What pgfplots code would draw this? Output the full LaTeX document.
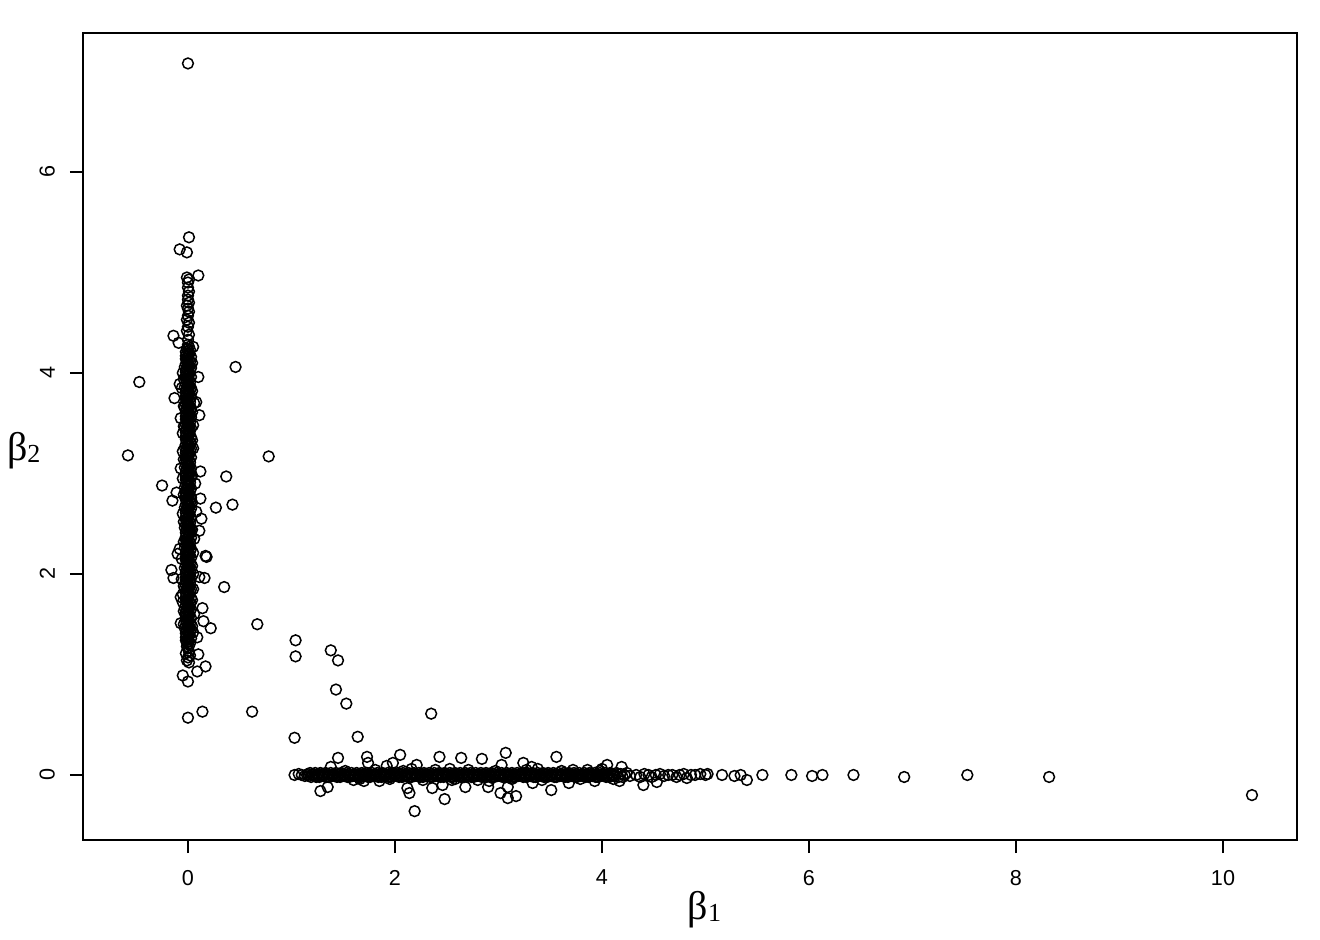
\documentclass[border=0pt]{standalone}
\usepackage{fontspec}
\setmainfont{Liberation Sans}
\newfontfamily\lserif{Liberation Serif}
\usepackage{pgfplots}
\pgfplotsset{compat=1.18}
\newcommand{\blabel}[1]{{\lserif\fontsize{20bp}{20bp}\selectfont β\raisebox{-1bp}{\fontsize{13bp}{13bp}\selectfont #1}}}
\begin{document}
\begin{tikzpicture}
\useasboundingbox (-41.5bp,-50bp) rectangle (618.5bp,420bp);
\begin{axis}[
  at={(0,0)}, anchor=south west,
  scale only axis, width=607bp, height=403.5bp,
  xmin=-1.014, xmax=10.715, ymin=-0.647, ymax=7.383,
  xtick={0,2,4,6,8,10}, ytick={0,2,4,6},
  tick pos=left, tick align=outside, major tick length=6.5bp,
  axis line style={line width=0.65bp},
  every tick/.style={black, line width=0.65bp},
  tick label style={font=\fontsize{10.8bp}{12bp}\selectfont},
  /pgf/number format/assume math mode=true,
  xticklabel shift=5bp,
  yticklabel style={rotate=90, anchor=south},
  yticklabel shift=4bp,
  xlabel={\blabel{1}}, ylabel={\blabel{2}},
  every axis x label/.style={at={(rel axis cs:0.512,0)}, anchor=center, yshift=-35bp},
  every axis y label/.style={at={(rel axis cs:0,0.483)}, anchor=west, xshift=-41.5bp},
]
% vertical cluster (beta1 near 0)
\addplot[only marks, mark=o, mark size=2.7bp, mark options={line width=0.75bp, black}] coordinates {
(0,7.08)(-0.08,5.23)(0.01,5.35)(-0.01,5.20)(0.10,4.97)
(0.01,1.12)(-0.01,1.14)(0,1.17)(0.02,1.19)(-0.02,1.21)(0.01,1.23)(0,1.26)(-0.01,1.28)
(0,1.30)(0.02,1.31)(-0.01,1.32)(0.01,1.33)(-0.02,1.34)(0,1.35)(0.03,1.36)(-0.02,1.37)(0.01,1.38)(-0.01,1.39)
(0.01,1.40)(-0.02,1.41)(0,1.42)(0.02,1.43)(-0.01,1.44)(0.03,1.45)(-0.03,1.46)(0.01,1.47)(0,1.48)(-0.02,1.49)
(0,1.50)(0.02,1.51)(-0.01,1.52)(0.01,1.53)(-0.02,1.54)(0,1.55)(0.03,1.56)(-0.02,1.57)(0.01,1.58)(-0.01,1.59)
(0.01,1.60)(-0.02,1.61)(0,1.62)(0.02,1.63)(-0.01,1.64)(0.03,1.65)(-0.03,1.66)(0.01,1.67)(0,1.68)(-0.02,1.69)
(0,1.70)(0.02,1.71)(-0.01,1.72)(0.01,1.73)(-0.02,1.74)(0,1.75)(0.03,1.76)(-0.02,1.77)(0.01,1.78)(-0.01,1.79)
(0.01,1.80)(-0.02,1.81)(0,1.82)(0.02,1.83)(-0.01,1.84)(0.03,1.85)(-0.03,1.86)(0.01,1.87)(0,1.88)(-0.02,1.89)
(0,1.90)(0.02,1.91)(-0.01,1.92)(0.01,1.93)(-0.02,1.94)(0,1.95)(0.03,1.96)(-0.02,1.97)(0.01,1.98)(-0.01,1.99)
(0.01,2.00)(-0.02,2.01)(0,2.02)(0.02,2.03)(-0.01,2.04)(0.03,2.05)(-0.03,2.06)(0.01,2.07)(0,2.08)(-0.02,2.09)
(0,2.10)(0.02,2.11)(-0.01,2.12)(0.01,2.13)(-0.02,2.14)(0,2.15)(0.03,2.16)(-0.02,2.17)(0.01,2.18)(-0.01,2.19)
(0.01,2.20)(-0.02,2.21)(0,2.22)(0.02,2.23)(-0.01,2.24)(0.03,2.25)(-0.03,2.26)(0.01,2.27)(0,2.28)(-0.02,2.29)
(0,2.30)(0.02,2.31)(-0.01,2.32)(0.01,2.33)(-0.02,2.34)(0,2.35)(0.03,2.36)(-0.02,2.37)(0.01,2.38)(-0.01,2.39)
(0.01,2.40)(-0.02,2.41)(0,2.42)(0.02,2.43)(-0.01,2.44)(0.03,2.45)(-0.03,2.46)(0.01,2.47)(0,2.48)(-0.02,2.49)
(0,2.50)(0.02,2.51)(-0.01,2.52)(0.01,2.53)(-0.02,2.54)(0,2.55)(0.03,2.56)(-0.02,2.57)(0.01,2.58)(-0.01,2.59)
(0.01,2.60)(-0.02,2.61)(0,2.62)(0.02,2.63)(-0.01,2.64)(0.03,2.65)(-0.03,2.66)(0.01,2.67)(0,2.68)(-0.02,2.69)
(0,2.70)(0.02,2.71)(-0.01,2.72)(0.01,2.73)(-0.02,2.74)(0,2.75)(0.03,2.76)(-0.02,2.77)(0.01,2.78)(-0.01,2.79)
(0.01,2.80)(-0.02,2.81)(0,2.82)(0.02,2.83)(-0.01,2.84)(0.03,2.85)(-0.03,2.86)(0.01,2.87)(0,2.88)(-0.02,2.89)
(0,2.90)(0.02,2.91)(-0.01,2.92)(0.01,2.93)(-0.02,2.94)(0,2.95)(0.03,2.96)(-0.02,2.97)(0.01,2.98)(-0.01,2.99)
(0.01,3.00)(-0.02,3.01)(0,3.02)(0.02,3.03)(-0.01,3.04)(0.03,3.05)(-0.03,3.06)(0.01,3.07)(0,3.08)(-0.02,3.09)
(0,3.10)(0.02,3.11)(-0.01,3.12)(0.01,3.13)(-0.02,3.14)(0,3.15)(0.03,3.16)(-0.02,3.17)(0.01,3.18)(-0.01,3.19)
(0.01,3.20)(-0.02,3.21)(0,3.22)(0.02,3.23)(-0.01,3.24)(0.03,3.25)(-0.03,3.26)(0.01,3.27)(0,3.28)(-0.02,3.29)
(0,3.30)(0.02,3.31)(-0.01,3.32)(0.01,3.33)(-0.02,3.34)(0,3.35)(0.03,3.36)(-0.02,3.37)(0.01,3.38)(-0.01,3.39)
(0.01,3.40)(-0.02,3.41)(0,3.42)(0.02,3.43)(-0.01,3.44)(0.03,3.45)(-0.03,3.46)(0.01,3.47)(0,3.48)(-0.02,3.49)
(0,3.50)(0.02,3.51)(-0.01,3.52)(0.01,3.53)(-0.02,3.54)(0,3.55)(0.03,3.56)(-0.02,3.57)(0.01,3.58)(-0.01,3.59)
(0.01,3.60)(-0.02,3.61)(0,3.62)(0.02,3.63)(-0.01,3.64)(0.03,3.65)(-0.03,3.66)(0.01,3.67)(0,3.68)(-0.02,3.69)
(0,3.70)(0.02,3.71)(-0.01,3.72)(0.01,3.73)(-0.02,3.74)(0,3.75)(0.03,3.76)(-0.02,3.77)(0.01,3.78)(-0.01,3.79)
(0.01,3.80)(-0.02,3.81)(0,3.82)(0.02,3.83)(-0.01,3.84)(0.03,3.85)(-0.03,3.86)(0.01,3.87)(0,3.88)(-0.02,3.89)
(0,3.90)(0.02,3.91)(-0.01,3.92)(0.01,3.93)(-0.02,3.94)(0,3.95)(0.03,3.96)(-0.02,3.97)(0.01,3.98)(-0.01,3.99)
(0.01,4.00)(-0.02,4.01)(0,4.02)(0.02,4.03)(-0.01,4.04)(0.03,4.05)(-0.03,4.06)(0.01,4.07)(0,4.08)(-0.02,4.09)
(0,4.10)(0.02,4.11)(-0.01,4.12)(0.01,4.13)(-0.02,4.14)(0,4.15)(0.03,4.16)(-0.02,4.17)(0.01,4.18)(-0.01,4.19)
(0.01,4.20)(-0.02,4.21)(0,4.22)(0.02,4.23)(-0.01,4.24)(0.01,4.26)(0,4.28)
(0,4.33)(0.01,4.38)(-0.01,4.42)(0,4.46)(0.01,4.50)(-0.01,4.53)(0,4.57)(0.01,4.61)(0,4.64)(-0.01,4.67)
(0.01,4.70)(0,4.73)(0,4.77)(0.01,4.81)(0,4.85)(0,4.90)(0.01,4.93)(-0.01,4.95)
(-0.06,3.85)(0.06,3.70)(-0.05,3.40)(0.05,3.25)(-0.07,3.05)(0.07,2.90)(-0.05,2.60)(0.06,2.35)
(-0.06,2.15)(0.05,2.00)(-0.05,1.80)(0.06,1.60)(-0.04,1.50)(0.05,1.42)(-0.06,1.95)(-0.08,2.25)
(0.08,2.62)(-0.07,3.55)(0.04,4.10)(-0.05,4.00)
(0.04,1.48)(-0.04,1.63)(0.04,1.74)(-0.04,1.88)(0.04,2.08)(-0.04,2.32)(0.04,2.44)(-0.04,2.52)
(0.04,2.71)(-0.04,2.79)(0.04,2.98)(-0.04,3.14)(0.04,3.33)(-0.04,3.47)(0.04,3.61)(-0.04,3.67)
(0.04,3.82)(-0.04,3.94)(0.05,2.21)(-0.05,2.95)(0.05,3.48)(-0.05,1.72)(0.05,1.85)(-0.05,3.22)
(-0.14,4.37)(-0.09,4.30)(0.05,4.26)(0.46,4.06)(-0.47,3.91)(0.10,3.96)(-0.08,3.89)(-0.13,3.75)
(0.08,3.71)(0.11,3.58)(-0.58,3.18)(0.78,3.17)(0.12,3.02)(0.37,2.97)(-0.25,2.88)(-0.11,2.81)
(-0.15,2.73)(0.12,2.75)(0.27,2.66)(0.43,2.69)(0.13,2.55)(0.11,2.43)(0.18,2.17)(0.17,2.18)
(-0.10,2.20)(-0.16,2.04)(-0.14,1.96)(0.16,1.96)(0.11,1.97)(0.35,1.87)(-0.07,1.77)(0.14,1.66)
(0.15,1.53)(0.22,1.46)(0.67,1.50)(-0.07,1.51)(0.09,1.37)(0.10,1.20)(-0.05,0.99)(0,0.93)
(0.09,1.03)(0.17,1.08)(0,0.57)(0.14,0.63)(0.62,0.63)
};
% horizontal cluster (beta2 near 0)
\addplot[only marks, mark=o, mark size=2.7bp, mark options={line width=0.75bp, black}] coordinates {
(1.04,1.34)(1.04,1.18)(1.38,1.24)(1.45,1.14)(1.43,0.85)(1.53,0.71)(2.35,0.61)(1.03,0.37)(1.64,0.38)
(1.03,0)(1.07,0.01)(1.10,0)(1.13,-0.01)
(1.15,0)(1.16,0.01)(1.17,-0.01)(1.18,0.02)(1.19,-0.02)
(1.20,0)(1.21,0.01)(1.22,-0.01)(1.23,0.02)(1.24,-0.02)(1.25,0)(1.26,0.01)(1.27,-0.02)(1.28,0.02)(1.29,-0.01)
(1.30,0.01)(1.31,-0.01)(1.32,0)(1.33,0.02)(1.34,-0.02)(1.35,0.01)(1.36,-0.02)(1.37,0)(1.38,0.02)(1.39,-0.01)
(1.40,0)(1.41,0.01)(1.42,-0.01)(1.43,0.02)(1.44,-0.02)(1.45,0)(1.46,0.01)(1.47,-0.02)(1.48,0.02)(1.49,-0.01)
(1.50,0.01)(1.51,-0.01)(1.52,0)(1.53,0.02)(1.54,-0.02)(1.55,0.01)(1.56,-0.02)(1.57,0)(1.58,0.02)(1.59,-0.01)
(1.60,0)(1.61,0.01)(1.62,-0.01)(1.63,0.02)(1.64,-0.02)(1.65,0)(1.66,0.01)(1.67,-0.02)(1.68,0.02)(1.69,-0.01)
(1.70,0.01)(1.71,-0.01)(1.72,0)(1.73,0.02)(1.74,-0.02)(1.75,0.01)(1.76,-0.02)(1.77,0)(1.78,0.02)(1.79,-0.01)
(1.80,0)(1.81,0.01)(1.82,-0.01)(1.83,0.02)(1.84,-0.02)(1.85,0)(1.86,0.01)(1.87,-0.02)(1.88,0.02)(1.89,-0.01)
(1.90,0.01)(1.91,-0.01)(1.92,0)(1.93,0.02)(1.94,-0.02)(1.95,0.01)(1.96,-0.02)(1.97,0)(1.98,0.02)(1.99,-0.01)
(2.00,0)(2.01,0.01)(2.02,-0.01)(2.03,0.02)(2.04,-0.02)(2.05,0)(2.06,0.01)(2.07,-0.02)(2.08,0.02)(2.09,-0.01)
(2.10,0.01)(2.11,-0.01)(2.12,0)(2.13,0.02)(2.14,-0.02)(2.15,0.01)(2.16,-0.02)(2.17,0)(2.18,0.02)(2.19,-0.01)
(2.20,0)(2.21,0.01)(2.22,-0.01)(2.23,0.02)(2.24,-0.02)(2.25,0)(2.26,0.01)(2.27,-0.02)(2.28,0.02)(2.29,-0.01)
(2.30,0.01)(2.31,-0.01)(2.32,0)(2.33,0.02)(2.34,-0.02)(2.35,0.01)(2.36,-0.02)(2.37,0)(2.38,0.02)(2.39,-0.01)
(2.40,0)(2.41,0.01)(2.42,-0.01)(2.43,0.02)(2.44,-0.02)(2.45,0)(2.46,0.01)(2.47,-0.02)(2.48,0.02)(2.49,-0.01)
(2.50,0.01)(2.51,-0.01)(2.52,0)(2.53,0.02)(2.54,-0.02)(2.55,0.01)(2.56,-0.02)(2.57,0)(2.58,0.02)(2.59,-0.01)
(2.60,0)(2.61,0.01)(2.62,-0.01)(2.63,0.02)(2.64,-0.02)(2.65,0)(2.66,0.01)(2.67,-0.02)(2.68,0.02)(2.69,-0.01)
(2.70,0.01)(2.71,-0.01)(2.72,0)(2.73,0.02)(2.74,-0.02)(2.75,0.01)(2.76,-0.02)(2.77,0)(2.78,0.02)(2.79,-0.01)
(2.80,0)(2.81,0.01)(2.82,-0.01)(2.83,0.02)(2.84,-0.02)(2.85,0)(2.86,0.01)(2.87,-0.02)(2.88,0.02)(2.89,-0.01)
(2.90,0.01)(2.91,-0.01)(2.92,0)(2.93,0.02)(2.94,-0.02)(2.95,0.01)(2.96,-0.02)(2.97,0)(2.98,0.02)(2.99,-0.01)
(3.00,0)(3.01,0.01)(3.02,-0.01)(3.03,0.02)(3.04,-0.02)(3.05,0)(3.06,0.01)(3.07,-0.02)(3.08,0.02)(3.09,-0.01)
(3.10,0.01)(3.11,-0.01)(3.12,0)(3.13,0.02)(3.14,-0.02)(3.15,0.01)(3.16,-0.02)(3.17,0)(3.18,0.02)(3.19,-0.01)
(3.20,0)(3.21,0.01)(3.22,-0.01)(3.23,0.02)(3.24,-0.02)(3.25,0)(3.26,0.01)(3.27,-0.02)(3.28,0.02)(3.29,-0.01)
(3.30,0.01)(3.31,-0.01)(3.32,0)(3.33,0.02)(3.34,-0.02)(3.35,0.01)(3.36,-0.02)(3.37,0)(3.38,0.02)(3.39,-0.01)
(3.40,0)(3.41,0.01)(3.42,-0.01)(3.43,0.02)(3.44,-0.02)(3.45,0)(3.46,0.01)(3.47,-0.02)(3.48,0.02)(3.49,-0.01)
(3.50,0.01)(3.51,-0.01)(3.52,0)(3.53,0.02)(3.54,-0.02)(3.55,0.01)(3.56,-0.02)(3.57,0)(3.58,0.02)(3.59,-0.01)
(3.60,0)(3.61,0.01)(3.62,-0.01)(3.63,0.02)(3.64,-0.02)(3.65,0)(3.66,0.01)(3.67,-0.02)(3.68,0.02)(3.69,-0.01)
(3.70,0.01)(3.71,-0.01)(3.72,0)(3.73,0.02)(3.74,-0.02)(3.75,0.01)(3.76,-0.02)(3.77,0)(3.78,0.02)(3.79,-0.01)
(3.80,0)(3.81,0.01)(3.82,-0.01)(3.83,0.02)(3.84,-0.02)(3.85,0)(3.86,0.01)(3.87,-0.02)(3.88,0.02)(3.89,-0.01)
(3.90,0.01)(3.91,-0.01)(3.92,0)(3.93,0.02)(3.94,-0.02)(3.95,0.01)(3.96,-0.02)(3.97,0)(3.98,0.02)(3.99,-0.01)
(4.00,0)(4.01,0.01)(4.02,-0.01)(4.03,0.02)(4.04,-0.02)(4.05,0)(4.06,0.01)(4.07,-0.02)(4.08,0.02)(4.09,-0.01)
(4.10,0.01)(4.11,-0.01)(4.12,0)(4.14,0.02)(4.16,-0.02)(4.18,0.01)(4.20,-0.02)(4.22,0)(4.24,0.02)(4.27,-0.01)
(4.33,0)(4.37,-0.02)(4.41,0.01)(4.45,0)(4.48,-0.02)(4.52,0)(4.56,0.01)(4.60,-0.01)(4.64,0)(4.68,0)
(4.72,-0.02)(4.75,0)(4.79,0.01)(4.82,-0.03)(4.86,0)(4.90,0)(4.95,0.01)(5.00,0)(5.02,0.01)
(5.16,0)(5.28,-0.01)(5.34,0)(5.40,-0.05)(5.55,0)(5.83,0)(6.03,-0.01)(6.13,0)(6.43,0)(6.92,-0.02)
(7.53,0)(8.32,-0.02)(10.28,-0.20)
(1.45,0.17)(1.73,0.18)(1.38,0.08)(1.74,0.12)(1.92,0.09)(1.98,0.12)(2.05,0.20)(2.21,0.10)
(2.43,0.18)(2.64,0.17)(2.84,0.16)(3.07,0.22)(3.03,0.10)(3.24,0.12)(3.32,0.08)(3.56,0.18)(3.72,0.05)
(4.05,0.10)(4.19,0.08)(4.00,0.06)
(1.52,0.04)(1.66,-0.04)(1.81,0.05)(1.95,-0.04)(2.08,0.04)(2.27,-0.05)(2.39,0.05)(2.58,-0.04)
(2.71,0.05)(2.80,-0.05)(2.97,0.04)(3.13,-0.04)(3.27,0.05)(3.42,-0.05)(3.61,0.04)(3.79,-0.04)
(3.86,0.05)(4.11,-0.04)(2.16,0.06)(2.53,0.06)(3.38,0.06)(1.70,-0.06)(2.91,-0.06)(3.98,0.04)
(1.28,-0.16)(1.35,-0.12)(2.14,-0.18)(2.12,-0.13)(2.19,-0.36)(2.36,-0.13)(2.48,-0.24)(2.46,-0.10)
(2.68,-0.12)(2.90,-0.12)(3.02,-0.18)(3.09,-0.23)(3.17,-0.21)(3.09,-0.12)(3.33,-0.08)(3.51,-0.15)
(3.68,-0.08)(4.40,-0.10)(4.53,-0.07)(3.93,-0.06)(4.17,-0.06)(1.60,-0.05)(1.85,-0.06)(2.55,-0.05)
};
\end{axis}
\end{tikzpicture}
\end{document}
